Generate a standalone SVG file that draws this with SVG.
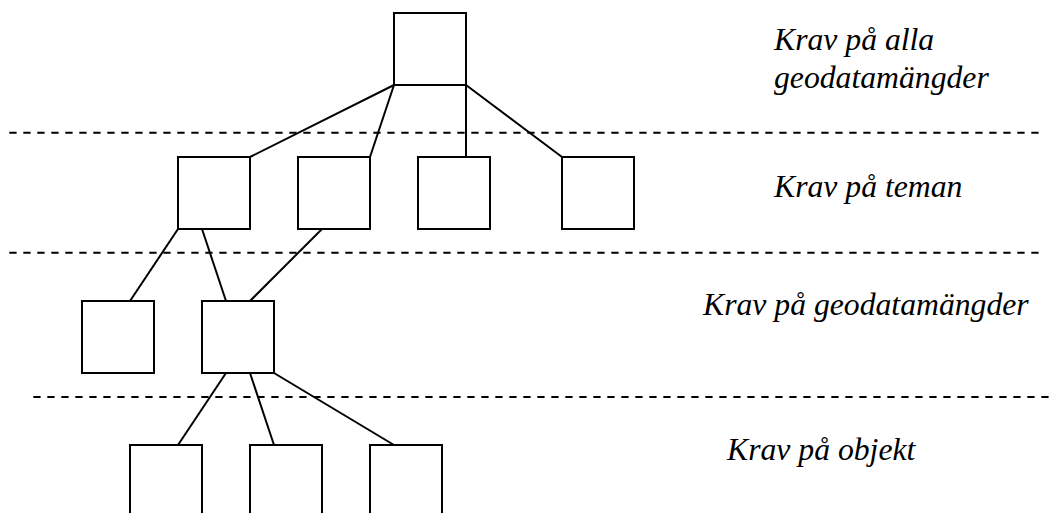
<svg xmlns="http://www.w3.org/2000/svg" width="1051" height="513" viewBox="0 0 1051 513">
<style>
.box{fill:#fff;stroke:#000;stroke-width:2}
.edge{stroke:#000;stroke-width:2;fill:none}
.dash{stroke:#000;stroke-width:2;stroke-dasharray:7.3 6.7;fill:none}
.lbl{font-family:"Liberation Serif",serif;font-style:italic;font-size:31.7px;fill:#000}
</style>
<rect width="1051" height="513" fill="#fff"/>
<g id="separators">
<line class="dash" x1="9.3" y1="132.7" x2="1040" y2="132.7"/>
<line class="dash" x1="9.3" y1="252.7" x2="1040" y2="252.7"/>
<line class="dash" x1="33.3" y1="397" x2="1051" y2="397"/>
</g>
<g id="connectors">
<line class="edge" x1="394" y1="85" x2="250" y2="157"/>
<line class="edge" x1="394" y1="85" x2="370" y2="157"/>
<line class="edge" x1="466" y1="85" x2="466" y2="157"/>
<line class="edge" x1="466" y1="85" x2="562" y2="157"/>
<line class="edge" x1="178" y1="229" x2="130" y2="301"/>
<line class="edge" x1="202" y1="229" x2="226" y2="301"/>
<line class="edge" x1="322" y1="229" x2="250" y2="301"/>
<line class="edge" x1="226" y1="373" x2="178" y2="445"/>
<line class="edge" x1="250" y1="373" x2="274" y2="445"/>
<line class="edge" x1="274" y1="373" x2="394" y2="445"/>
</g>
<g id="n-root"><rect class="box" x="394" y="13" width="72" height="72"/></g>
<g id="n-t1"><rect class="box" x="178" y="157" width="72" height="72"/></g>
<g id="n-t2"><rect class="box" x="298" y="157" width="72" height="72"/></g>
<g id="n-t3"><rect class="box" x="418" y="157" width="72" height="72"/></g>
<g id="n-t4"><rect class="box" x="562" y="157" width="72" height="72"/></g>
<g id="n-g1"><rect class="box" x="82" y="301" width="72" height="72"/></g>
<g id="n-g2"><rect class="box" x="202" y="301" width="72" height="72"/></g>
<g id="n-o1"><rect class="box" x="130" y="445" width="72" height="80"/></g>
<g id="n-o2"><rect class="box" x="250" y="445" width="72" height="80"/></g>
<g id="n-o3"><rect class="box" x="370" y="445" width="72" height="80"/></g>
<g id="labels">
<text class="lbl" x="774" y="50">Krav på alla</text>
<text class="lbl" x="774" y="88">geodatamängder</text>
<text class="lbl" x="774" y="197">Krav på teman</text>
<text class="lbl" x="703" y="315">Krav på geodatamängder</text>
<text class="lbl" x="727" y="460">Krav på objekt</text>
</g>
</svg>
